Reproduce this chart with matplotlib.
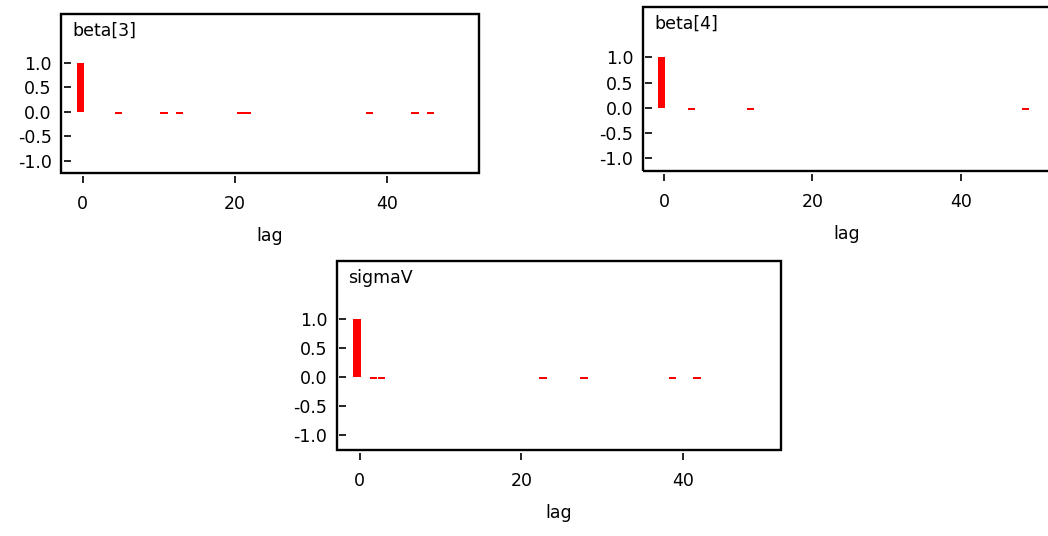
import numpy as np
import matplotlib
matplotlib.use("Agg")
import matplotlib.pyplot as plt
from matplotlib.patches import Rectangle

plt.rcParams['font.family'] = ['DejaVu Sans']

# Autocorrelation by lag for each monitored node
beta3_lags = [0, 5, 11, 13, 21, 22, 38, 44, 46]
beta3_acf = [1.0, -0.04, -0.04, -0.04, -0.04, -0.04, -0.04, -0.04, -0.04]

beta4_lags = [0, 4, 12, 49]
beta4_acf = [1.0, -0.04, -0.04, -0.04]

sigmaV_lags = [0, 2, 3, 23, 28, 39, 42]
sigmaV_acf = [1.0, -0.04, -0.04, -0.04, -0.04, -0.04, -0.04]

node_names = ["beta[3]", "beta[4]", "sigmaV"]
x_ticks = [0, 20, 40]
y_ticks = [-1.0, -0.5, 0.0, 0.5, 1.0]
y_tick_labels = ["-1.0", "-0.5", "0.0", "0.5", "1.0"]

W, H = 1048, 536
fig = plt.figure(figsize=(W / 100, H / 100), dpi=100)


def px_rect(left, top, right, bottom):
    return [left / W, 1 - bottom / H, (right - left) / W, (bottom - top) / H]


panels = [
    (px_rect(61, 14, 479, 173), beta3_lags, beta3_acf, node_names[0]),
    (px_rect(642.7, 7, 1051, 171), beta4_lags, beta4_acf, node_names[1]),
    (px_rect(336.7, 261, 781, 449.7), sigmaV_lags, sigmaV_acf, node_names[2]),
]

FS = 12.5

for rect, lags, acf, name in panels:
    ax = fig.add_axes(rect)
    ax.bar(np.asarray(lags) - 0.3, acf, width=0.95, color="#ff0000",
           linewidth=0)
    ax.set_xlim(-2.85, 52.1)
    ax.set_ylim(-1.25, 2.0)

    # frame drawn separately so ticks can sit just off the frame line
    for side in ("left", "right", "top", "bottom"):
        ax.spines[side].set_visible(False)
    ax.spines["bottom"].set_position(("outward", 2.2))
    ax.spines["left"].set_position(("outward", -1.8))
    ax.add_patch(Rectangle((0, 0), 1, 1, transform=ax.transAxes, fill=False,
                           edgecolor="black", linewidth=1.7, clip_on=False,
                           zorder=5))

    ax.set_xticks(x_ticks)
    ax.set_yticks(y_ticks)
    ax.set_yticklabels(y_tick_labels)
    ax.tick_params(axis="x", direction="out", length=5.2, width=1.2,
                   pad=8.5, labelsize=FS)
    ax.tick_params(axis="y", direction="in", length=5.0, width=1.2,
                   pad=8.5, labelsize=FS)
    ax.set_xlabel("lag", fontsize=FS, labelpad=10)
    ax.annotate(name, xy=(0, 1), xycoords="axes fraction",
                xytext=(8.5, -5.5), textcoords="offset points",
                ha="left", va="top", fontsize=FS)

fig.savefig("out.png", dpi=100)
